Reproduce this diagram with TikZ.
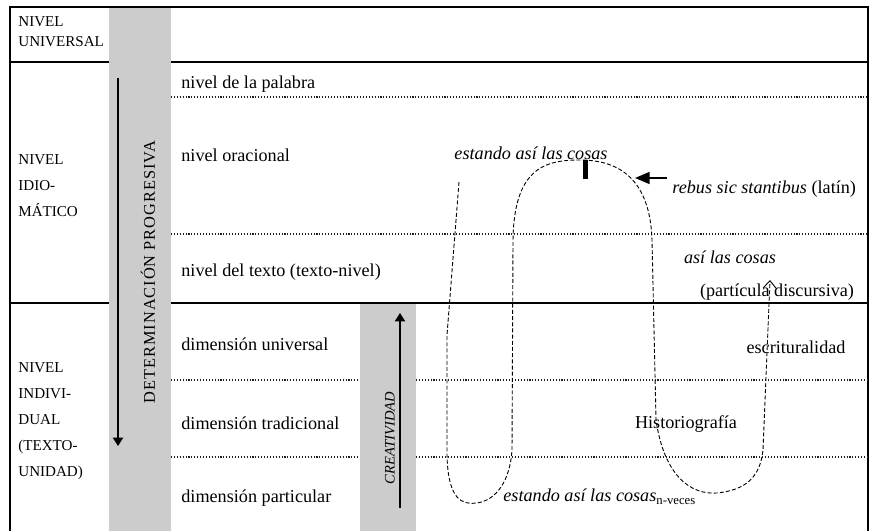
\documentclass[tikz,border=0pt]{standalone}
\usepackage{fontspec}
\setmainfont{Liberation Serif}
\usetikzlibrary{arrows.meta, positioning, calc}
\definecolor{bargray}{RGB}{204, 204, 204}
\definecolor{dotgray}{RGB}{30, 30, 30}

\begin{document}
\begin{tikzpicture}[x=0.55pt, y=-0.55pt,
  rule/.style={line width=1.1pt, black},
  subrule/.style={densely dotted, line width=0.6pt, dotgray},
  band/.style={fill=bargray, draw=none},
  lvl/.style={align=left, anchor=west, inner sep=0pt, font=\fontsize{8.3}{10}\selectfont},
  dim/.style={anchor=west, inner sep=0pt, font=\normalsize},
  ex/.style={inner sep=0pt, font=\normalsize\itshape},
  trail/.style={dash pattern=on 2.2pt off 1.2pt, line width=0.5pt},
  downarrow/.style={-{Triangle[length=4.6pt, width=5.6pt]}, line width=0.9pt},
  pointer/.style={-{Triangle[length=8pt, width=6.5pt]}, line width=1.1pt}
]
\useasboundingbox (0,0) rectangle (871,531);

% Grey bands
\fill[band] (109,7) rectangle (171,531);
\fill[band] (360,303) rectangle (416,531);

% Frame and level rules
\draw[rule] (10,531) -- (10,7) -- (868,7) -- (868,531);
\draw[rule] (10,62) -- (109,62);
\draw[rule] (171,62) -- (868,62);
\draw[rule] (10,303) -- (109,303);
\draw[rule] (171,303) -- (868,303);

\draw[subrule] (171,97) -- (868,97);
\draw[subrule] (171,234) -- (868,234);
\draw[subrule] (171,380) -- (360,380);
\draw[subrule] (416,380) -- (868,380);
\draw[subrule] (171,457) -- (360,457);
\draw[subrule] (416,457) -- (868,457);

% Levels
\node[lvl, execute at begin node=\setlength{\baselineskip}{11pt}] (universal) at (18,32) {NIVEL\\UNIVERSAL};
\node[lvl, execute at begin node=\setlength{\baselineskip}{14.3pt}] (idiomatico) at (18,186) {NIVEL\\IDIO-\\MÁTICO};
\node[lvl, execute at begin node=\setlength{\baselineskip}{14.3pt}] (individual) at (18,421) {NIVEL\\INDIVI-\\DUAL\\(TEXTO-\\UNIDAD)};

\node[rotate=90, font=\fontsize{9}{11}\selectfont\addfontfeature{LetterSpace=6}] (determ) at (148,272) {DETERMINACIÓN PROGRESIVA};
\coordinate (detTop) at (118,78);
\coordinate (detEnd) at (118,446);
\draw[downarrow] (detTop) -- (detEnd);

\node[dim] (palabra) at (181,84) {nivel de la palabra};
\node[dim] (oracional) at (181,155) {nivel oracional};
\node[dim] (texto) at (181,272) {nivel del texto (texto-nivel)};
\node[dim] (dimUniv) at (181,344) {dimensión universal};
\node[dim] (dimTrad) at (181,423) {dimensión tradicional};
\node[dim] (dimPart) at (181,498) {dimensión particular};

% Creatividad
\node[rotate=90, font=\footnotesize\itshape] (creat) at (390,438) {CREATIVIDAD};
\coordinate (creaBot) at (400,508);
\coordinate (creaTop) at (400,313);
\draw[downarrow] (creaBot) -- (creaTop);

% Examples
\node[ex] (estando) at (531,153) {estando así las cosas};
\node[ex, anchor=west] (rebus) at (672,189) {rebus sic stantibus \upshape(latín)};
\node[ex] (asi) at (730,257) {así las cosas};
\node[dim, anchor=center] (particula) at (777,292) {(partícula discursiva)};
\node[dim, anchor=center] (escrit) at (796,347) {escrituralidad};
\node[dim, anchor=center] (historio) at (686,424) {Historiografía};
\node[ex, anchor=west] (nveces) at (503,497) {estando así las cosas\textsubscript{\upshape n-veces}};

\coordinate (arcTip) at (635,178);
\draw[pointer] ([shift={(-5,-11)}]rebus.west) -- (arcTip);
\draw[line width=2.6pt] (585.5,160) -- (585.5,179);

\draw[trail, -{Straight Barb[length=4pt, width=7pt]}] (459,182) -- (447,335) -- (447,455)
  .. controls (448,500) and (462,505) .. (477,503)
  .. controls (497,500) and (510,480) .. (512,450) -- (513,240)
  .. controls (514,168) and (545,160) .. (580,160)
  .. controls (618,160) and (650,178) .. (652,240) -- (656,420)
  .. controls (664,475) and (690,495) .. (717,493)
  .. controls (745,490) and (760,478) .. (763,450) -- (770,280);

\end{tikzpicture}
\end{document}
